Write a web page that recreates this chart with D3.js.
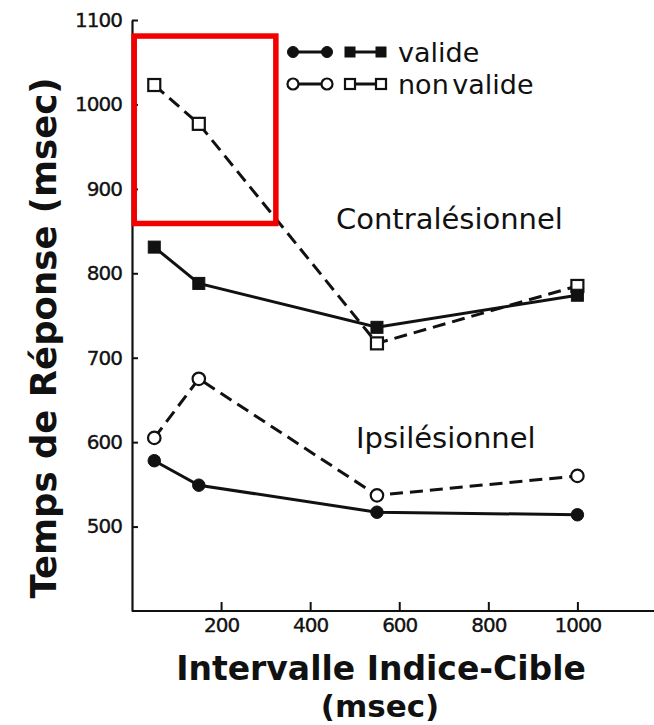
<!DOCTYPE html>
<html>
<head>
<meta charset="utf-8">
<script src="https://cdn.jsdelivr.net/npm/d3@7"></script>
<style>
  html, body { margin: 0; padding: 0; background: #fff; }
  svg { display: block; }
</style>
</head>
<body>
<svg id="chart" width="654" height="725"></svg>
<script>
// Cue–target intervals (ms)
const intervals = [50, 150, 550, 1000];

// Mean response times (ms)
const contraValide    = [831, 788, 736, 774];
const contraNonValide = [1023, 977, 717, 785];
const ipsiValide      = [578, 549, 517, 514];
const ipsiNonValide   = [605, 675, 537, 560];

// Axis ticks
const xTicks = [200, 400, 600, 800, 1000];
const yTicks = [500, 600, 700, 800, 900, 1000, 1100];

// Legend rows
const legendLabels = ["valide", "non valide"];

// Highlighted region (interval range, RT range)
const highlightX = [5, 323];
const highlightY = [859, 1081];

const width = 654, height = 725;
const margin = { top: 20, right: 0, bottom: 114, left: 132 };

const svg = d3.select("#chart");

const x = d3.scaleLinear()
  .domain([0, 1172])
  .range([margin.left, width - margin.right]);

const y = d3.scaleLinear()
  .domain([400, 1100])
  .range([height - margin.bottom, margin.top]);

const ink = "#111";
const tickFont = "'DejaVu Sans', sans-serif";

// ---- axes ----
const yAxis = d3.axisLeft(y)
  .tickValues(yTicks)
  .tickSizeInner(-6)
  .tickSizeOuter(0)
  .tickPadding(10)
  .tickFormat(d3.format("d"));

const xAxis = d3.axisBottom(x)
  .tickValues(xTicks)
  .tickSizeInner(-9)
  .tickSizeOuter(0)
  .tickPadding(7)
  .tickFormat(d3.format("d"));

const gy = svg.append("g")
  .attr("transform", `translate(${margin.left},0)`)
  .call(yAxis);

const gx = svg.append("g")
  .attr("transform", `translate(0,${height - margin.bottom})`)
  .call(xAxis);

[gx, gy].forEach(g => {
  g.select(".domain").attr("stroke", ink).attr("stroke-width", 2.2);
  g.selectAll(".tick line").attr("stroke", ink).attr("stroke-width", 2);
  g.selectAll(".tick text")
    .attr("fill", ink)
    .attr("stroke", ink)
    .attr("stroke-width", 0.35)
    .style("font-family", tickFont)
    .style("font-size", "20px")
    .style("letter-spacing", "-1px");
});

// x axis line continues to the edge of the figure
gx.select(".domain").attr("d", `M${margin.left},0H${width}`);

// ---- axis titles ----
const titleStyle = sel => sel
  .style("font-family", "'DejaVu Sans', sans-serif")
  .style("font-weight", "bold")
  .attr("fill", ink);

svg.append("text")
  .attr("transform", `translate(56,338) rotate(-90)`)
  .attr("text-anchor", "middle")
  .style("font-size", "35.5px")
  .call(titleStyle)
  .text("Temps de Réponse (msec)");

svg.append("text")
  .attr("x", 381)
  .attr("y", 680)
  .attr("text-anchor", "middle")
  .style("font-size", "33px")
  .call(titleStyle)
  .text("Intervalle Indice-Cible");

svg.append("text")
  .attr("x", 380)
  .attr("y", 717)
  .attr("text-anchor", "middle")
  .style("font-size", "31px")
  .call(titleStyle)
  .text("(msec)");

// ---- series ----
const series = [
  { values: contraNonValide, dashed: true,  shape: "square", filled: false },
  { values: contraValide,    dashed: false, shape: "square", filled: true  },
  { values: ipsiNonValide,   dashed: true,  shape: "circle", filled: false },
  { values: ipsiValide,      dashed: false, shape: "circle", filled: true  }
];

const line = d3.line()
  .x(d => x(d[0]))
  .y(d => y(d[1]));

const markerSize = 12;

function drawMarker(g, shape, filled, size) {
  if (shape === "square") {
    g.append("rect")
      .attr("x", -size / 2).attr("y", -size / 2)
      .attr("width", size).attr("height", size)
      .attr("fill", filled ? ink : "#fff")
      .attr("stroke", ink)
      .attr("stroke-width", filled ? 1 : 2.2);
  } else {
    g.append("circle")
      .attr("r", size / 2)
      .attr("fill", filled ? ink : "#fff")
      .attr("stroke", ink)
      .attr("stroke-width", filled ? 1 : 2.2);
  }
}

series.forEach(s => {
  const pts = intervals.map((t, i) => [t, s.values[i]]);
  svg.append("path")
    .datum(pts)
    .attr("d", line)
    .attr("fill", "none")
    .attr("stroke", ink)
    .attr("stroke-width", 3)
    .attr("stroke-dasharray", s.dashed ? "13,7" : null);
});

series.forEach(s => {
  intervals.forEach((t, i) => {
    const g = svg.append("g")
      .attr("transform", `translate(${x(t)},${y(s.values[i])})`);
    drawMarker(g, s.shape, s.filled, s.shape === "square" ? markerSize : markerSize + 0.5);
  });
});

// ---- group labels ----
const labelFont = "'DejaVu Sans', sans-serif";
svg.append("text")
  .attr("x", 336).attr("y", 229)
  .style("font-family", labelFont)
  .style("font-size", "29px")
  .attr("fill", ink)
  .text("Contralésionnel");

svg.append("text")
  .attr("x", 356).attr("y", 448)
  .style("font-family", labelFont)
  .style("font-size", "29px")
  .attr("fill", ink)
  .text("Ipsilésionnel");

// ---- legend ----
const legend = svg.append("g").attr("transform", "translate(293,52)");
legendLabels.forEach((label, i) => {
  const filled = i === 0;
  const row = legend.append("g").attr("transform", `translate(0,${i * 32})`);
  // circle pair
  row.append("line").attr("x1", 0).attr("x2", 34).attr("y1", 0).attr("y2", 0)
    .attr("stroke", ink).attr("stroke-width", 3);
  // square pair
  row.append("line").attr("x1", 57).attr("x2", 88).attr("y1", 0).attr("y2", 0)
    .attr("stroke", ink).attr("stroke-width", 3);
  [0, 34].forEach(cx => {
    drawMarker(row.append("g").attr("transform", `translate(${cx},0)`), "circle", filled, 11);
  });
  [57, 88].forEach(cx => {
    drawMarker(row.append("g").attr("transform", `translate(${cx},0)`), "square", filled, 10);
  });
  row.append("text")
    .attr("x", 105).attr("y", 0).attr("dy", "0.36em")
    .style("font-family", labelFont)
    .style("font-size", "27px")
    .style("word-spacing", "-5px")
    .attr("fill", ink)
    .text(label);
});

// ---- highlight box ----
svg.append("rect")
  .attr("x", x(highlightX[0]))
  .attr("y", y(highlightY[1]))
  .attr("width", x(highlightX[1]) - x(highlightX[0]))
  .attr("height", y(highlightY[0]) - y(highlightY[1]))
  .attr("fill", "none")
  .attr("stroke", "#f20000")
  .attr("stroke-width", 5.5);
</script>
</body>
</html>
